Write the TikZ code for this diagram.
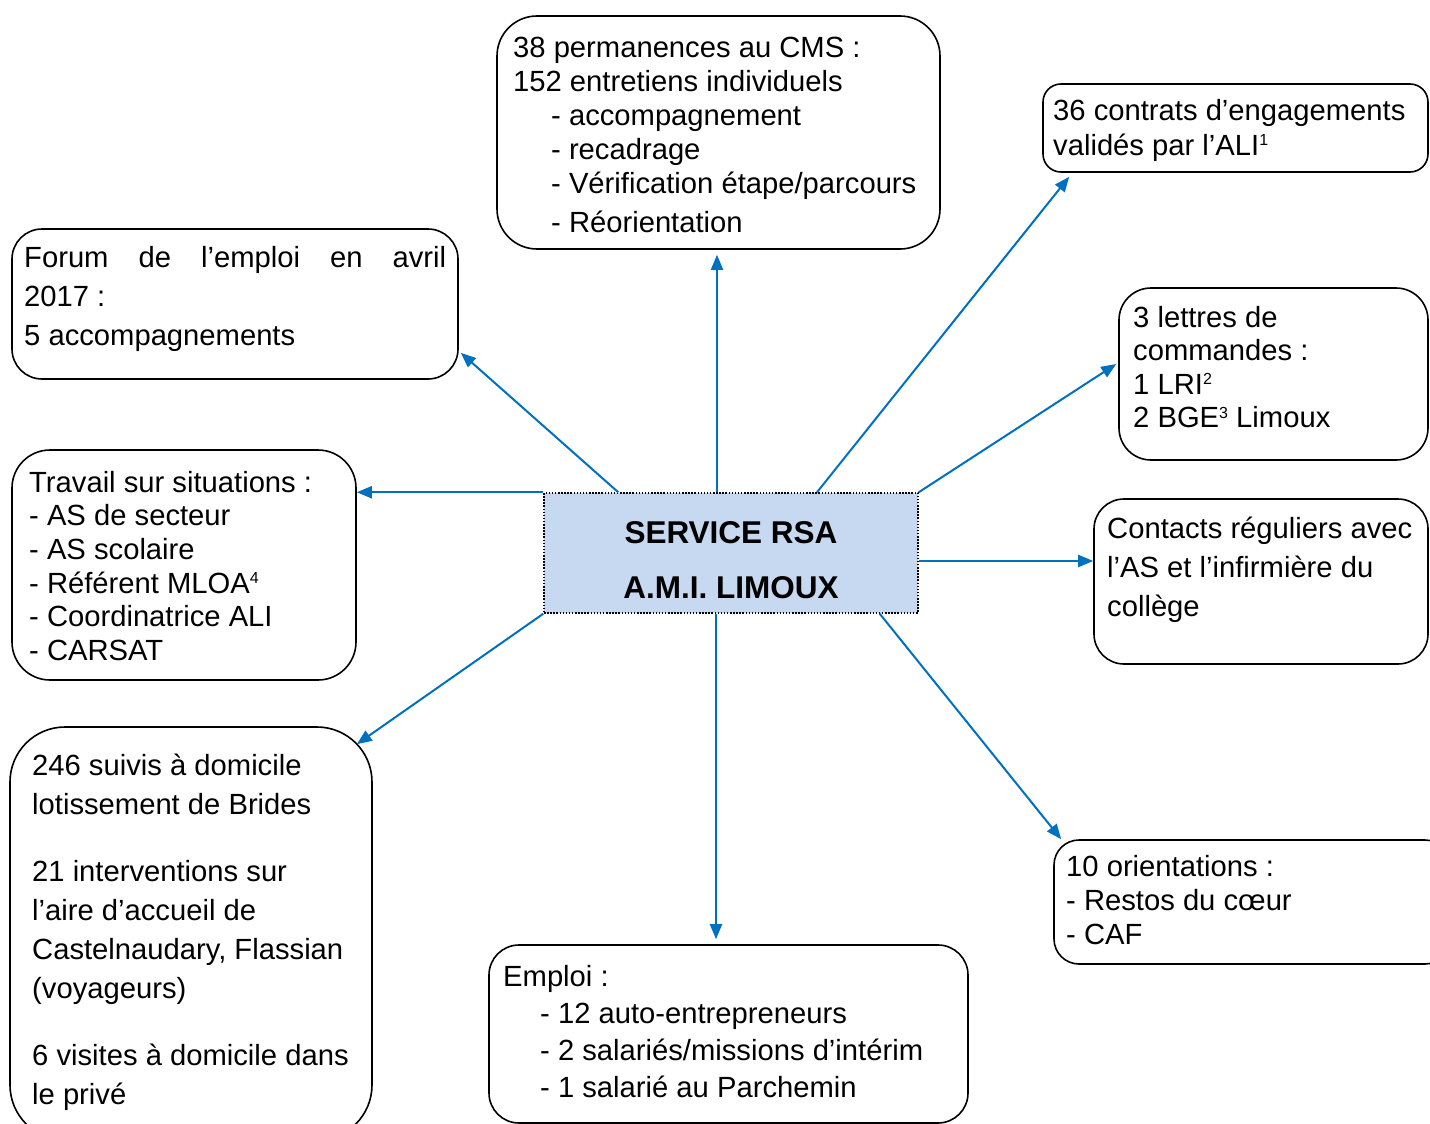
\documentclass[tikz,border=0pt]{standalone}
\usepackage{fontspec}
\setmainfont{Liberation Sans}
\usetikzlibrary{arrows.meta}
\definecolor{arrblue}{HTML}{0070C0}
\definecolor{ctrfill}{HTML}{C6D9F1}
\newcommand\supx[1]{\raisebox{9.5pt}{\fontsize{16}{16}\selectfont #1}}
\newcommand\fsz[1]{\fontsize{29.2}{#1}\selectfont}
\begin{document}
\begin{tikzpicture}[x=1pt,y=-1pt]
\tikzset{
  box/.style={draw, line width=1.6pt, rounded corners=#1, inner sep=0pt, rectangle},
  box/.default=30pt,
  txt/.style={anchor=north west, inner sep=0pt, align=left},
  ctrtxt/.style={anchor=base, inner sep=0pt, font=\bfseries\fontsize{31.5}{31.5}\selectfont},
  arr/.style={draw=arrblue, line width=2pt, -{Triangle[length=15pt,width=12pt]}}
}
\useasboundingbox (0,0) rectangle (1430,1124);

% boxes
\node[box=40pt, minimum width=443pt, minimum height=233pt] (cms) at (718.5,132.5) {};
\node[box=18pt, minimum width=385pt, minimum height=88pt] (contrats) at (1235.5,128) {};
\node[box=30pt, minimum width=446pt, minimum height=150pt] (forum) at (235,304) {};
\node[box=32pt, minimum width=309pt, minimum height=172pt] (lettres) at (1273.5,374) {};
\node[box=38pt, minimum width=344pt, minimum height=230pt] (travail) at (184,565) {};
\node[box=30pt, minimum width=334pt, minimum height=165pt] (contacts) at (1261,581.5) {};
\node[box=55pt, minimum width=362pt, minimum height=413pt] (bl) at (191,933.5) {};
\node[box=25pt, minimum width=396pt, minimum height=124pt] (orient) at (1252,902) {};
\node[box=30pt, minimum width=479pt, minimum height=178pt] (emploi) at (728.5,1034) {};
\node[draw=black, dash pattern=on 1.5pt off 1.6pt, line width=1.5pt, fill=ctrfill,
      minimum width=374pt, minimum height=120pt, inner sep=0pt] (ctr) at (731,553) {};

% texts
\node[txt, font=\fsz{34}] (cmsT) at (513,33) {\rule{0pt}{24pt}38 permanences au CMS :\\
152 entretiens individuels\\
\hspace*{38pt}- accompagnement\\
\hspace*{38pt}- recadrage\\
\hspace*{38pt}- Vérification étape/parcours\\[5pt]
\hspace*{38pt}- Réorientation};
\node[txt, font=\fsz{35}] (contratsT) at (1053,96) {\rule{0pt}{24pt}36 contrats d’engagements\\
validés par l’ALI\supx{1}};
\node[txt, font=\fsz{39}] (forumT) at (24,243) {\rule{0pt}{24pt}\makebox[422pt][s]{Forum de l’emploi en avril}\\
2017 :\\
5 accompagnements};
\node[txt, font=\fsz{33.5}] (lettresT) at (1133,303) {\rule{0pt}{24pt}3 lettres de\\
commandes :\\
1 LRI\supx{2}\\
2 BGE\supx{3} Limoux};
\node[txt, font=\fsz{33.6}] (travailT) at (29,468) {\rule{0pt}{24pt}Travail sur situations :\\
- AS de secteur\\
- AS scolaire\\
- Référent MLOA\supx{4}\\
- Coordinatrice ALI\\
- CARSAT};
\node[txt, font=\fsz{39}] (contactsT) at (1107,514) {\rule{0pt}{24pt}Contacts réguliers avec\\
l’AS et l’infirmière du\\
collège};
\node[txt, font=\fsz{39}] (blT) at (32,751) {\rule{0pt}{24pt}246 suivis à domicile\\
lotissement de Brides\\[28pt]
21 interventions sur\\
l’aire d’accueil de\\
Castelnaudary, Flassian\\
(voyageurs)\\[28pt]
6 visites à domicile dans\\
le privé};
\node[txt, font=\fsz{34}] (orientT) at (1066,852) {\rule{0pt}{24pt}10 orientations :\\
- Restos du cœur\\
- CAF};
\node[txt, font=\fsz{37}] (emploiT) at (503,962) {\rule{0pt}{24pt}Emploi :\\
\hspace*{37pt}- 12 auto-entrepreneurs\\
\hspace*{37pt}- 2 salariés/missions d’intérim\\
\hspace*{37pt}- 1 salarié au Parchemin};
\node[ctrtxt] (ctr1) at (731,543) {SERVICE RSA};
\node[ctrtxt] (ctr2) at (731,598) {A.M.I. LIMOUX};

% connectors
\coordinate (cE) at ([yshift=-8pt]ctr.east);
\coordinate (cS) at ([xshift=-15pt]ctr.south);
\coordinate (eN) at (cS |- emploi.north);
\draw[arr] ([xshift=-14pt]ctr.north) -- ([xshift=-1.5pt,yshift=-5pt]cms.south);
\draw[arr] ([xshift=86pt]ctr.north) -- ([xshift=27pt,yshift=-4pt]contrats.south west);
\draw[arr] ([xshift=75pt]ctr.north west) -- ([xshift=2pt,yshift=27pt]forum.south east);
\draw[arr] (ctr.north east) -- ([xshift=-2pt,yshift=10pt]lettres.west);
\draw[arr] (ctr.north west) -- (ctr.north west -| travail.east);
\draw[arr] (cE) -- (cE -| contacts.west);
\draw[arr] (ctr.south west) -- ([xshift=-16pt,yshift=-18pt]bl.north east);
\draw[arr] (cS) -- ([yshift=5pt]eN);
\draw[arr] ([xshift=-39pt]ctr.south east) -- ([xshift=8pt]orient.north west);
\end{tikzpicture}
\end{document}
